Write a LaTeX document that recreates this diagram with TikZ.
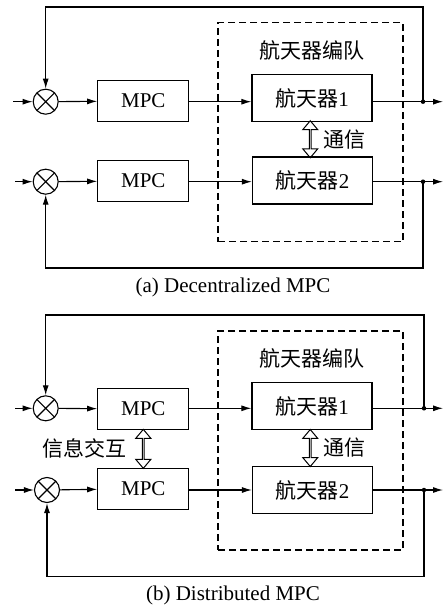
\documentclass[tikz,border=0pt]{standalone}
\usepackage{fontspec}
\setmainfont{Liberation Serif}
\newfontfamily\cjk{Noto Sans CJK SC}
\usetikzlibrary{arrows.meta,shapes.arrows,calc}
\begin{document}
\begin{tikzpicture}[x=1pt,y=-1pt, font=\fontsize{21}{25}\selectfont,
 blk/.style={draw, line width=1.2pt, inner sep=0pt},
 mpcbox/.style={blk, minimum width=91pt, minimum height=41pt},
 satbox/.style={blk, minimum width=120pt, minimum height=47pt},
 sig/.style={line width=1.1pt, -{Latex[length=10pt,width=6pt]}},
 ln/.style={line width=1.1pt},
 sumj/.style={circle, draw, line width=1.1pt, minimum size=25pt, inner sep=0pt,
   path picture={\draw[line width=1.1pt] (path picture bounding box.north west) -- (path picture bounding box.south east)
     (path picture bounding box.south west) -- (path picture bounding box.north east);}},
 comm/.style={double arrow, draw, line width=1pt, minimum width=15pt, double arrow head extend=4pt,
   double arrow tip angle=80, inner sep=0pt, rotate=90},
 jdot/.style={circle, fill, inner sep=0pt, minimum size=4.5pt},
 grp/.style={draw, line width=1.1pt, dash pattern=on 7pt off 4pt}
]
\useasboundingbox (0,0) rectangle (443,609);

% ---------- panel (a) ----------
\node[grp, minimum width=185pt, minimum height=219pt] (ga) at (310.5,132.3) {};
\node (gla) at (312,50) {\cjk 航天器编队};
\node[sumj] (sa1) at (45.7,101.7) {};
\node[sumj] (sa2) at (45.7,181.7) {};
\node[mpcbox] (ma1) at (143.3,101) {MPC};
\node[mpcbox] (ma2) at (143.3,181) {MPC};
\node[satbox] (pa1) at (312,98) {{\cjk 航天器}1};
\node[satbox] (pa2) at (312.5,180.5) {{\cjk 航天器}2};
\coordinate (ina1) at (13,101.7);
\coordinate (ina2) at (15,181.7);
\coordinate (oa1) at (443,101.7);
\coordinate (oa2) at (443,181.7);
\node[jdot] (da1) at (423,101.7) {};
\node[jdot] (da2) at (423,181.7) {};
\coordinate (ta) at (0,7);
\coordinate (ba) at (0,268);
\draw[sig] (ina1) -- (sa1);
\draw[sig] (ina2) -- (sa2);
\draw[sig] (sa1) -- (ma1);
\draw[sig] (sa2) -- (ma2);
\draw[sig] (ma1.east |- sa1) -- (pa1.west |- sa1);
\draw[sig] (ma2.east |- sa2) -- (pa2.west |- sa2);
\draw[sig] (pa1.east |- sa1) -- (oa1);
\draw[sig] (pa2.east |- sa2) -- (oa2);
\draw[sig] (da1.center) -- (da1.center |- ta) -- (sa1 |- ta) -- (sa1.north);
\draw[sig] (da2.center) -- (da2.center |- ba) -- (sa2 |- ba) -- (sa2.south);
\node[comm, minimum height=37pt] (ca) at ($(pa1.south)!0.5!(pa2.north)+(-2,0)$) {};
\node[anchor=west] (cla) at (320,140) {\cjk 通信};
\node (capa) at (233,287) {(a) Decentralized MPC};

% ---------- panel (b) ----------
\node[grp, minimum width=185pt, minimum height=219pt] (gb) at (310.5,440.5) {};
\node (glb) at (312,358) {\cjk 航天器编队};
\node[sumj] (sb1) at (45.7,408.3) {};
\node[sumj] (sb2) at (47,490) {};
\node[mpcbox] (mb1) at (143.3,409) {MPC};
\node[mpcbox] (mb2) at (143.3,488.7) {MPC};
\node[satbox] (pb1) at (312,406) {{\cjk 航天器}1};
\node[satbox] (pb2) at (312.5,490) {{\cjk 航天器}2};
\coordinate (inb1) at (15,408.3);
\coordinate (inb2) at (15,490);
\coordinate (ob1) at (443,408.3);
\coordinate (ob2) at (443,490);
\node[jdot] (db1) at (424,408.3) {};
\node[jdot] (db2) at (424,490) {};
\coordinate (tb) at (0,315);
\coordinate (bb) at (0,576.7);
\draw[sig] (inb1) -- (sb1);
\draw[sig] (inb2) -- (sb2);
\draw[sig] (sb1) -- (mb1);
\draw[sig] (sb2) -- (mb2);
\draw[sig] (mb1.east |- sb1) -- (pb1.west |- sb1);
\draw[sig] (mb2.east |- sb2) -- (pb2.west |- sb2);
\draw[sig] (pb1.east |- sb1) -- (ob1);
\draw[sig] (pb2.east |- sb2) -- (ob2);
\draw[sig] (db1.center) -- (db1.center |- tb) -- (sb1 |- tb) -- (sb1.north);
\draw[sig] (db2.center) -- (db2.center |- bb) -- (sb2 |- bb) -- (sb2.south);
\node[comm, minimum height=37pt] (cb) at ($(pb1.south)!0.5!(pb2.north)+(-2,0)$) {};
\node[anchor=west] (clb) at (320,448) {\cjk 通信};
\node[comm, minimum height=39pt] (xb) at ($(mb1.south)!0.5!(mb2.north)$) {};
\node[anchor=east] (xlb) at (130,448) {\cjk 信息交互};
\node (capb) at (233,595) {(b) Distributed MPC};
\end{tikzpicture}
\end{document}
